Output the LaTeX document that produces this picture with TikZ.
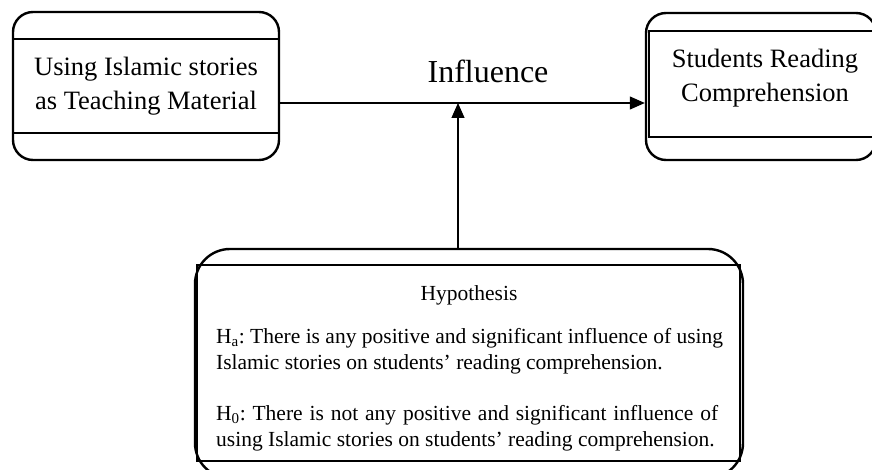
\documentclass[tikz,border=0pt]{standalone}
\usepackage{fontspec}
\setmainfont{Liberation Serif}
\usetikzlibrary{arrows.meta}
\frenchspacing

\begin{document}
\begin{tikzpicture}
    [x=1pt, y=-1pt, >={Triangle[length=15pt,width=13pt]},
     every node/.style={inner sep=0pt},
     outerbox/.style={rectangle, draw, rounded corners=20pt, line width=2.4pt},
     innerbox/.style={rectangle, draw, line width=2pt},
     link/.style={->, line width=1.2pt},
     boxtext/.style={align=center, font=\fontsize{26.5}{34}\selectfont},
     hyptext/.style={font=\fontsize{21.5}{26}\selectfont}]
  \useasboundingbox (0,0) rectangle (872,470);
  \clip (0,0) rectangle (872,470);

  \node (use) [outerbox, minimum width=266pt, minimum height=148pt] at (146,86) {};
  \node (useIn) [innerbox, boxtext, minimum width=266pt, minimum height=94pt] at (146,86) {Using Islamic stories\\as Teaching Material};

  \node (read) [outerbox, minimum width=230pt, minimum height=147pt] at (761,86.5) {};
  \node (readIn) [innerbox, minimum width=233pt, minimum height=106pt] at (765.5,84) {};
  \node (readText) [boxtext, anchor=north] at (765,49) {Students Reading\\Comprehension};

  \node (hyp) [outerbox, rounded corners=35pt, minimum width=548pt, minimum height=229pt] at (469,363.5) {};
  \node (hypIn) [innerbox, minimum width=543pt, minimum height=196pt] at (468.5,363) {};
  \node (hypTitle) [hyptext, anchor=base] at (469,300) {Hypothesis};
  \node (hypText) [hyptext, anchor=north west, align=left] at (216,328.5)
    {H\textsubscript{a}: There is any positive and significant influence of using\\
     Islamic stories on students’ reading comprehension.\\[25pt]
     \makebox[502pt][s]{H\textsubscript{0}: There is not any positive and significant influence of}\\
     using Islamic stories on students’ reading comprehension.};

  \node (infl) [anchor=base, font=\fontsize{32}{38}\selectfont] at (488,83) {Influence};

  \coordinate (meet) at (458,103);
  \draw[link] (use.east |- meet) -- (read.west |- meet);
  \draw[link] (hyp.north -| meet) -- (meet);
\end{tikzpicture}
\end{document}
